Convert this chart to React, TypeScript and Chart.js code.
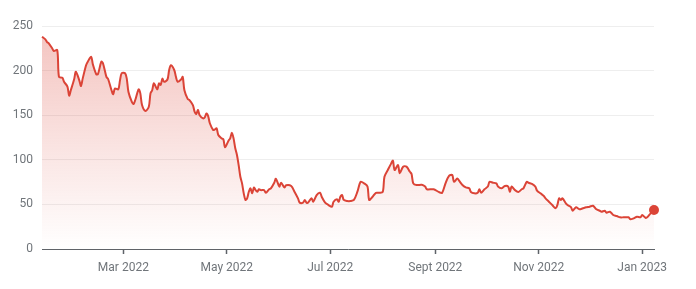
import { useEffect, useRef } from "react";
import { Chart, registerables } from "chart.js";

Chart.register(...registerables);

// Day of period: days since 2022-01-01 (365 = 2023-01-01)
const DAYS = [
  11, 13, 14, 15, 17, 18, 20, 21, 23, 24, 26, 27, 28, 30, 31, 33, 34, 35, 37, 38,
  40, 41, 43, 44, 46, 47, 49, 50, 52, 53, 54, 56, 57, 58, 60, 61, 62, 64, 65, 66,
  68, 69, 70, 72, 74, 75, 76, 77, 79, 80, 81, 82, 83, 85, 86, 87, 89, 90, 91, 93,
  94, 95, 97, 98, 100, 101, 102, 103, 104, 106, 107, 108, 109, 110, 112, 113, 114, 115, 117, 118,
  119, 121, 122, 123, 124, 125, 126, 127, 128, 129, 130, 131, 132, 133, 134, 135, 136, 137, 138, 139,
  140, 142, 143, 145, 146, 148, 149, 151, 152, 154, 155, 158, 160, 162, 163, 165, 166, 167, 168, 170,
  171, 173, 175, 176, 178, 180, 182, 183, 185, 186, 187, 188, 189, 191, 193, 195, 197, 199, 201, 203,
  204, 206, 208, 210, 212, 213, 215, 217, 218, 219, 221, 222, 224, 226, 228, 229, 230, 232, 235, 237,
  238, 242, 245, 247, 249, 251, 253, 254, 256, 257, 259, 261, 263, 264, 266, 268, 269, 270, 272, 274,
  275, 277, 279, 280, 282, 284, 286, 287, 288, 290, 292, 294, 295, 297, 298, 300, 302, 303, 305, 307,
  308, 310, 312, 314, 315, 316, 317, 318, 320, 321, 323, 324, 326, 328, 330, 332, 334, 336, 338, 340,
  341, 343, 344, 346, 348, 350, 352, 354, 357, 358, 360, 362, 364, 365, 367, 368, 370, 371, 372,
];

const PRICES = [
  238, 235, 232, 230.6, 225, 222, 223, 193, 192, 187.5, 182, 172, 178, 190.6, 198.8, 189, 182.7, 191, 206, 210,
  215.5, 207, 196, 196, 210, 208, 193, 190.6, 178, 173.4, 180, 179, 189, 197, 197, 191, 176, 165, 162.5, 167,
  179, 174.5, 161.4, 154.7, 159.5, 174.5, 178, 185.7, 179, 185.7, 184, 191, 187.5, 190, 200.7, 206, 200.7, 193, 187.5, 190,
  193, 178, 168, 167, 161.4, 154, 151.3, 155.8, 150, 146.5, 147.6, 152, 149, 141, 133.4, 134, 135.3, 127.8, 124, 123,
  114, 121.4, 124, 130.4, 124, 112.9, 105.4, 94, 81, 73.6, 62.4, 55, 56.8, 64.2, 68, 62.4, 69, 66, 64.2, 67,
  66, 66, 63, 67, 68, 74.3, 78.8, 70, 74.3, 69, 71.4, 70.6, 64, 56.8, 52, 52, 55, 52, 52, 57,
  53, 60.5, 63, 58.6, 52, 49.3, 47.4, 53, 55.7, 53, 58.6, 60.5, 55, 53.8, 53.8, 55, 64, 75.4, 73.6, 70,
  55, 58.6, 63, 63, 64, 81, 88.6, 96, 99, 88.6, 94, 84.9, 92.3, 92.3, 86.6, 84, 73.6, 71.7, 72, 70,
  67, 67, 64, 63, 73.6, 81.8, 83, 75.4, 79, 76.6, 71.7, 69, 68, 64, 62.4, 63, 67, 63, 67, 70,
  75.4, 74.3, 73.6, 70, 68, 70.6, 70, 64, 70, 66, 64, 67, 68, 75.4, 74.3, 72.9, 70, 65.4, 62.4, 59.4,
  56.8, 53, 49.3, 45.6, 49.3, 56.8, 55, 56.8, 51.2, 49.3, 47, 42.9, 46.7, 44.5, 45.6, 46.7, 47.4, 48.5, 44.5, 42.9,
  41.8, 42.9, 40.7, 41.8, 38.1, 37, 35.5, 35.5, 35.5, 33.3, 34.4, 36.2, 35.5, 38.1, 35, 35.5, 40, 41.8, 43.7,
];

const X_TICK_DAYS = [59, 120, 181, 243, 304, 365];
const X_TICK_LABELS = ["Mar 2022", "May 2022", "Jul 2022", "Sept 2022", "Nov 2022", "Jan 2023"];
const Y_TICKS = [0, 50, 100, 150, 200, 250];

const LABEL_COLOR = "#70757a";
const AXIS_COLOR = "#5f6368";
const LINE_COLOR = "#db4437";

export default function App() {
  const ref = useRef<HTMLCanvasElement>(null);

  useEffect(() => {
    document.body.style.margin = "0";
    const canvas = ref.current;
    if (!canvas) return;
    Chart.defaults.font.family = "Roboto";
    const chart = new Chart(canvas, {
      type: "line",
      data: {
        datasets: [
          {
            data: DAYS.map((d, i) => ({ x: d, y: PRICES[i] })),
            borderColor: LINE_COLOR,
            borderWidth: 2,
            tension: 0.3,
            fill: "origin",
            backgroundColor: (c: any) => {
              const ch = c.chart;
              const a = ch.chartArea;
              if (!a) return "rgba(219,68,55,0.15)";
              const g = ch.ctx.createLinearGradient(0, a.top, 0, a.bottom);
              g.addColorStop(0, "rgba(219,68,55,0.32)");
              g.addColorStop(1, "rgba(219,68,55,0)");
              return g;
            },
            pointRadius: (c: any) => (c.dataIndex === DAYS.length - 1 ? 5 : 0),
            pointBackgroundColor: LINE_COLOR,
            pointBorderWidth: 0,
            pointHoverRadius: 0,
            clip: false as any,
          },
        ],
      },
      options: {
        animation: false,
        responsive: false,
        maintainAspectRatio: false,
        layout: { padding: { top: 26, right: 42, left: 0, bottom: 0 } },
        plugins: { legend: { display: false }, tooltip: { enabled: false } },
        scales: {
          x: {
            type: "linear",
            min: 11,
            max: 372,
            afterBuildTicks: (s: any) => {
              s.ticks = X_TICK_DAYS.map((v) => ({ value: v }));
            },
            ticks: {
              callback: (v: any) => {
                const i = X_TICK_DAYS.indexOf(Number(v));
                return i >= 0 ? X_TICK_LABELS[i] : "";
              },
              color: LABEL_COLOR,
              font: { size: 12, family: "Roboto" },
              padding: 7,
              maxRotation: 0,
              autoSkip: false,
            },
            grid: {
              drawOnChartArea: false,
              drawTicks: true,
              tickLength: 5,
              tickColor: AXIS_COLOR,
              tickWidth: 1.5,
            },
            border: { color: AXIS_COLOR, width: 1 },
            afterFit: (s: any) => {
              s.height = 40;
            },
          },
          y: {
            min: 0,
            max: 250,
            afterBuildTicks: (s: any) => {
              s.ticks = Y_TICKS.map((v) => ({ value: v }));
            },
            ticks: {
              color: LABEL_COLOR,
              font: { size: 12, family: "Roboto" },
              padding: 9,
            },
            grid: { color: "#eeeeee", drawTicks: false },
            border: { display: false },
            afterFit: (s: any) => {
              s.width = 42;
            },
          },
        },
      },
    });
    return () => chart.destroy();
  }, []);

  return <canvas ref={ref} width={696} height={289} style={{ display: "block" }} />;
}
